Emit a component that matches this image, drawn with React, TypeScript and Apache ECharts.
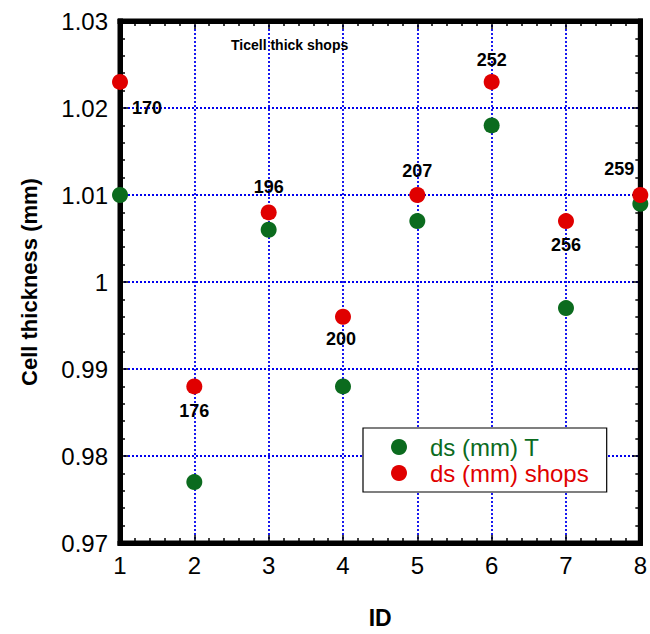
import React, { useEffect, useRef } from "react";
import * as echarts from "echarts";

const ids = [1, 2, 3, 4, 5, 6, 7, 8];
const dsT = [1.01, 0.977, 1.006, 0.988, 1.007, 1.018, 0.997, 1.009];
const dsShops = [1.023, 0.988, 1.008, 0.996, 1.01, 1.023, 1.007, 1.01];
const shopLabels = ["170", "176", "196", "200", "207", "252", "256", "259"];
const labelOffsets: [number, number][] = [
  [27, 26], [0, 25], [0, -25], [-2, 22], [0, -24], [0, -22], [0, 24], [-21, -26],
];

const FONT = "'Liberation Sans', Arial, Helvetica, sans-serif";

export default function App() {
  const ref = useRef<HTMLDivElement>(null);
  useEffect(() => {
    document.body.style.margin = "0";
    const chart = echarts.init(ref.current!, null, { renderer: "svg" });
    const axisCommon = {
      type: "value" as const,
      axisLine: { show: true, onZero: false, lineStyle: { color: "#000", width: 5, cap: "square" } },
      axisTick: { show: true, inside: true, length: 8, lineStyle: { color: "#000", width: 1.5 } },
      minorTick: { show: true, splitNumber: 5, length: 5, lineStyle: { color: "#000", width: 1.5 } },
    };
    const gridLine = { show: true, lineStyle: { color: "#0000ee", width: 1.8, type: [2, 2] } };
    chart.setOption({
      animation: false,
      backgroundColor: "#fff",
      title: {
        text: "Ticell thick shops",
        left: 231,
        top: 38,
        padding: 0,
        textStyle: { fontFamily: FONT, fontSize: 14, fontWeight: "bold", color: "#000" },
      },
      grid: { left: 120, right: 7, top: 21, bottom: 91, show: true, borderColor: "#000", borderWidth: 5, backgroundColor: "transparent" },
      legend: {
        orient: "vertical",
        left: 363,
        top: 428,
        padding: [7, 18, 7, 28],
        backgroundColor: "#fff",
        borderColor: "#000",
        borderWidth: 1.2,
        itemWidth: 16,
        itemHeight: 16,
        itemGap: 2,
        icon: "circle",
        data: [
          { name: "ds (mm) T", textStyle: { color: "#0b6b1e" } },
          { name: "ds (mm) shops", textStyle: { color: "#e00000" } },
        ],
        textStyle: { fontFamily: FONT, fontSize: 24, lineHeight: 22, padding: [0, 0, 0, 18] },
      },
      xAxis: [
        {
          ...axisCommon,
          position: "bottom",
          min: 1,
          max: 8,
          interval: 1,
          name: "ID",
          nameLocation: "middle",
          nameGap: 63,
          nameTextStyle: { fontFamily: FONT, fontSize: 23, fontWeight: "bold", color: "#000" },
          axisLabel: { fontFamily: FONT, fontSize: 24, color: "#000", margin: 10 },
          splitLine: gridLine,
        },
        {
          ...axisCommon,
          position: "top",
          min: 1,
          max: 8,
          interval: 1,
          axisLabel: { show: false },
          splitLine: { show: false },
        },
      ],
      yAxis: [
        {
          ...axisCommon,
          position: "left",
          min: 0.97,
          max: 1.03,
          interval: 0.01,
          name: "Cell thickness (mm)",
          nameLocation: "middle",
          nameGap: 80,
          nameTextStyle: { fontFamily: FONT, fontSize: 22, fontWeight: "bold", color: "#000" },
          axisLabel: {
            fontFamily: FONT,
            fontSize: 24,
            color: "#000",
            margin: 12,
            formatter: (v: number) => String(parseFloat(v.toFixed(2))),
          },
          splitLine: gridLine,
        },
        {
          ...axisCommon,
          position: "right",
          min: 0.97,
          max: 1.03,
          interval: 0.01,
          axisLabel: { show: false },
          splitLine: { show: false },
        },
      ],
      series: [
        {
          name: "ds (mm) T",
          type: "scatter",
          clip: false,
          symbol: "circle",
          symbolSize: 16,
          itemStyle: { color: "#0b6b1e", opacity: 1 },
          data: ids.map((x, i) => [x, dsT[i]]),
        },
        {
          name: "ds (mm) shops",
          type: "scatter",
          clip: false,
          symbol: "circle",
          symbolSize: 16,
          itemStyle: { color: "#e00000", opacity: 1 },
          data: ids.map((x, i) => ({
            value: [x, dsShops[i]],
            label: {
              show: true,
              position: "inside",
              offset: labelOffsets[i],
              formatter: shopLabels[i],
              fontFamily: FONT,
              fontSize: 18,
              fontWeight: "bold",
              color: "#000",
              textBorderWidth: 0,
              opacity: 1,
            },
          })),
        },
      ],
    });
    return () => chart.dispose();
  }, []);
  return (
    <div
      ref={ref}
      style={{ position: "absolute", left: 0, top: 0, width: 650, height: 634 }}
    />
  );
}
